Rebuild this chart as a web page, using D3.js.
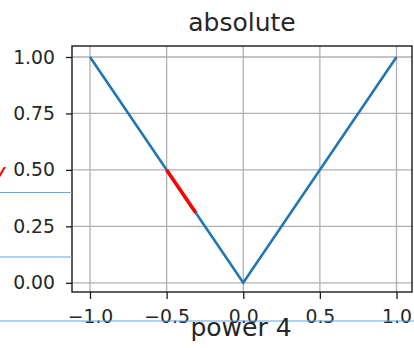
<!DOCTYPE html>
<html>
<head>
<meta charset="utf-8">
<script src="https://cdn.jsdelivr.net/npm/d3@7"></script>
<style>
  body { margin: 0; background: #fff; }
  svg { display: block; }
</style>
</head>
<body>
<div id="chart"></div>
<script>
// data
const curveX = [-1, 0, 1]
const curveY = [1, 0, 1]
const segX = [-0.5, -0.31]
const segY = [0.5, 0.31]
const xTicks = [-1.0, -0.5, 0.0, 0.5, 1.0]
const yTicks = [0.00, 0.25, 0.50, 0.75, 1.00]
const title = "absolute"
const nextTitle = "power 4"

const width = 414, height = 348
const frame = { left: 72, right: 412, top: 46, bottom: 292 }

const svg = d3.select("#chart").append("svg")
    .attr("width", width)
    .attr("height", height)
    .style("font-family", "'DejaVu Sans', sans-serif")

const x = d3.scaleLinear().domain([-1, 1]).range([90, 396.5])
const y = d3.scaleLinear().domain([0, 1]).range([282.8, 57])

// grid
const grid = svg.append("g").attr("stroke", "#b0b0b0").attr("stroke-width", 1.3)
grid.selectAll("line.gx").data(xTicks).join("line")
    .attr("x1", d => x(d)).attr("x2", d => x(d))
    .attr("y1", frame.top).attr("y2", frame.bottom)
grid.selectAll("line.gy").data(yTicks).join("line")
    .attr("y1", d => y(d)).attr("y2", d => y(d))
    .attr("x1", frame.left).attr("x2", frame.right)

// curve
const line = d3.line().x(d => x(d[0])).y(d => y(d[1]))
svg.append("path")
    .datum(d3.zip(curveX, curveY))
    .attr("fill", "none")
    .attr("stroke", "#1f77b4")
    .attr("stroke-width", 2.6)
    .attr("d", line)
svg.append("path")
    .datum(d3.zip(segX, segY))
    .attr("fill", "none")
    .attr("stroke", "#ff0000")
    .attr("stroke-width", 3.6)
    .attr("d", line)

// frame
svg.append("rect")
    .attr("x", frame.left).attr("y", frame.top)
    .attr("width", frame.right - frame.left).attr("height", frame.bottom - frame.top)
    .attr("fill", "none").attr("stroke", "#1a1a1a").attr("stroke-width", 1.4)

// axes (matplotlib style ticks)
const xAxis = d3.axisBottom(x).tickValues(xTicks).tickSize(7).tickPadding(11)
    .tickFormat(d => d3.format(".1f")(d).replace("-", "\u2212"))
const gx = svg.append("g").attr("transform", `translate(0,${frame.bottom})`).call(xAxis)
const yAxis = d3.axisLeft(y).tickValues(yTicks).tickSize(6).tickPadding(11)
    .tickFormat(d3.format(".2f"))
const gy = svg.append("g").attr("transform", `translate(${frame.left},0)`).call(yAxis)
for (const g of [gx, gy]) {
    g.select(".domain").remove()
    g.selectAll(".tick line").attr("stroke", "#1a1a1a").attr("stroke-width", 1.3)
    g.selectAll(".tick text")
        .attr("fill", "#262626")
        .style("font-family", "'DejaVu Sans', sans-serif")
        .style("font-size", "18.8px")
}

// title
svg.append("text")
    .attr("x", 242).attr("y", 31)
    .attr("text-anchor", "middle")
    .attr("fill", "#262626")
    .style("font-size", "25px")
    .text(title)

// bits of neighbouring panels that spill in
svg.append("text")
    .attr("x", -9).attr("y", 181)
    .attr("fill", "#ff0000")
    .style("font-size", "25px")
    .style("font-style", "italic")
    .text("y")
const strays = [[0, 72, 192.5], [0, 72, 257], [0, 414, 321]]
svg.append("g").attr("stroke", "#5ba8f0").attr("stroke-width", 1.2)
    .selectAll("line").data(strays).join("line")
    .attr("x1", d => d[0]).attr("x2", d => d[1])
    .attr("y1", d => d[2]).attr("y2", d => d[2])

svg.append("text")
    .attr("x", 241).attr("y", 336)
    .attr("text-anchor", "middle")
    .attr("fill", "#262626")
    .style("font-size", "25px")
    .text(nextTitle)
</script>
</body>
</html>
